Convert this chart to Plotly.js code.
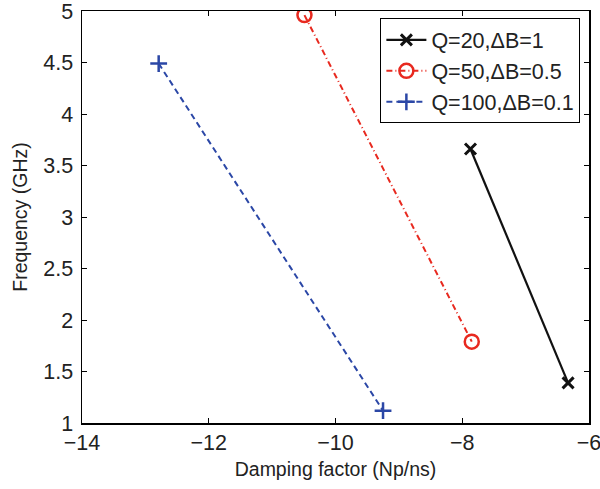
<!DOCTYPE html>
<html><head><meta charset="utf-8">
<script src="https://cdn.plot.ly/plotly-3.0.1.min.js"></script>
<style>html,body{margin:0;padding:0;background:#fff}</style>
</head><body>
<div id="chart" style="width:600px;height:489px"></div>
<script>
const names = ["Q=20,\u0394B=1", "Q=50,\u0394B=0.5", "Q=100,\u0394B=0.1"];
const x1 = [-7.87, -6.33];
const y1 = [3.66, 1.39];
const x2 = [-10.49, -7.85];
const y2 = [4.96, 1.79];
const x3 = [-12.79, -9.25];
const y3 = [4.49, 1.12];
const xTicks = [-14, -12, -10, -8, -6];
const xTickText = ["\u221214", "\u221212", "\u221210", "\u22128", "\u22126"];
const yTicks = [1, 1.5, 2, 2.5, 3, 3.5, 4, 4.5, 5];

const traces = [
  {x: x1, y: y1, name: names[0], mode: 'lines+markers',
   line: {color: '#111111', width: 2.2, dash: 'solid'},
   marker: {symbol: 'x-thin-open', size: 11, color: '#111111', line: {width: 3, color: '#111111'}}},
  {x: x2, y: y2, name: names[1], mode: 'lines+markers',
   line: {color: '#e8291f', width: 2, dash: '6px,3px,1px,3px'},
   marker: {symbol: 'circle-open', size: 14, color: '#e8291f', line: {width: 2.5, color: '#e8291f'}}},
  {x: x3, y: y3, name: names[2], mode: 'lines+markers',
   line: {color: '#2b47a6', width: 2, dash: '6px,4px'},
   marker: {symbol: 'cross-thin-open', size: 12, color: '#2b47a6', line: {width: 2.5, color: '#2b47a6'}}}
];

const FONT = 'Liberation Sans, Arial, sans-serif';
const axisCommon = {
  showline: true, linecolor: '#000', linewidth: 1.5, mirror: 'allticks',
  ticks: 'inside', ticklen: 5, tickcolor: '#000', tickwidth: 1,
  showgrid: false, zeroline: false, ticklabeloverflow: 'allow',
  tickfont: {family: FONT, size: 21.5, color: '#222'}
};

const layout = {
  width: 600, height: 489,
  margin: {l: 82, r: 11, t: 11, b: 66},
  paper_bgcolor: '#fff', plot_bgcolor: '#fff',
  font: {family: FONT, color: '#222'},
  showlegend: true,
  xaxis: Object.assign({}, axisCommon, {
    range: [-14, -6], tickvals: xTicks, ticktext: xTickText, ticklabelstandoff: 0,
    title: {text: 'Damping factor (Np/ns)', font: {size: 19.5, color: '#222'}, standoff: 8}
  }),
  yaxis: Object.assign({}, axisCommon, {
    range: [1, 5], tickvals: yTicks, ticklabelstandoff: 3,
    title: {text: 'Frequency (GHz)', font: {size: 19.5, color: '#222'}, standoff: 10}
  }),
  legend: {
    x: 0.983, y: 0.982, xanchor: 'right', yanchor: 'top',
    bordercolor: '#000', borderwidth: 1, bgcolor: '#fff',
    font: {size: 21.5, color: '#222', family: FONT},
    tracegroupgap: 0, itemwidth: 40
  }
};

Plotly.newPlot('chart', traces, layout, {displayModeBar: false, staticPlot: true});
</script>
</body></html>
